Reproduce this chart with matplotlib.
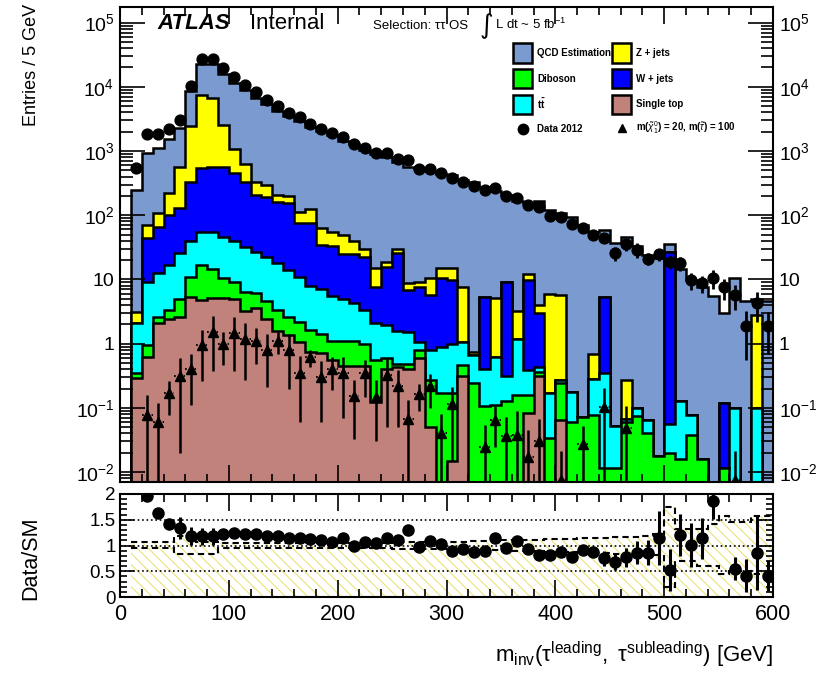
import numpy as np
import matplotlib
matplotlib.use("Agg")
import matplotlib.pyplot as plt
from matplotlib.patches import Rectangle
from matplotlib.lines import Line2D
from matplotlib.ticker import MultipleLocator, LogLocator, FuncFormatter, NullFormatter, FixedLocator

plt.rcParams['font.family'] = ['Liberation Sans', 'DejaVu Sans']
plt.rcParams['mathtext.fontset'] = 'custom'
plt.rcParams['mathtext.rm'] = 'Liberation Sans'
plt.rcParams['mathtext.it'] = 'Liberation Sans:italic'
plt.rcParams['mathtext.bf'] = 'Liberation Sans:bold'
plt.rcParams['hatch.linewidth'] = 0.8

# 10 GeV bins between 10 and 600 GeV
edges = np.arange(10, 601, 10)
centers = edges[:-1] + 5

single_top = [0.29, 0.63, 2.07, 2.45, 2.6, 5.4, 4.8, 5.1, 5.1, 4.9,
              3.2, 3.6, 2.4, 1.6, 1.35, 1.05, 0.75, 0.72, 0.55, 0.45,
              0.45, 0.45, 0.125, 0.4, 0.44, 0.41, 0.59, 0.051, 0, 0.015,
              0.31, 0, 0, 0, 0, 0, 0.082, 0.31, 0, 0.064,
              0, 0, 0, 0, 0, 0, 0, 0, 0, 0,
              0, 0, 0, 0, 0, 0, 0, 0, 0]
diboson = [0.06, 0.32, 0.53, 0.85, 2.3, 5.6, 11.7, 9.7, 5.3, 4.3,
           3.2, 2.6, 2.2, 1.7, 1.25, 1.15, 0.9, 0.68, 0.55, 0.65,
           0.65, 0.55, 0.435, 0.19, 0.05, 0.08, 0.2, 0.219, 0.168, 0.153,
           0.16, 0.24, 0.108, 0.11, 0.13, 0.16, 0.076, 0.05, 0.034, 0.176,
           0.06, 0.073, 0.077, 0.0114, 0.0114, 0.06, 0.075, 0.04, 0.018, 0.02,
           0.016, 0.038, 0.016, 0, 0.0115, 0, 0, 0, 0]
ttbar = [1.75, 8.15, 9.9, 13.7, 20.7, 28, 38.5, 40.2, 35.6, 29.8,
         25.6, 20.8, 17.9, 14.7, 11.4, 8.8, 6.35, 5.6, 4.4, 3.9,
         3.2, 2.3, 1.54, 1.36, 1.11, 1.01, 0.28, 0.52, 0.72, 0.832,
         0.6, 0.42, 0.3, 0.52, 0.18, 1.04, 0.232, 0.08, 0.134, 0.03,
         0.118, 0, 0.208, 0.334, 0.04, 0.008, 0.025, 0.025, 0, 0.036,
         0.114, 0.039, 0, 0, 0, 0.1, 0, 0.1, 0]
wjets = [0, 34.9, 53.5, 83, 102, 294, 480, 515, 509, 411,
         301, 178, 172.5, 142, 140, 66, 69, 28, 27.5, 19.5,
         20.7, 18.7, 5.6, 13.85, 24.1, 5.3, 6.63, 4.91, 9.51, 8.8,
         0, 0, 5.0, 0, 8.9, 0, 9.4, 2.51, 0, 0,
         0, 0, 0, 5.05, 0, 0, 0, 0, 0, 26.9,
         0, 0, 0, 0, 0.107, 0, 0, 0, 0]
zjets = [1.0, 27, 41, 118, 432, 2117, 6965, 6030, 1945, 620,
         297, 128, 100, 45, 46, 36, 48, 28, 22, 24.5,
         14, 7.5, 7.3, 3.2, 4.3, 1.9, 1.5, 4.7, 4.6, 5.2,
         6.63, 0.08, 0, 4.47, 0, 2.0, 2.3, 1.05, 5.83, 5.43,
         0, 0, 0.415, 0, 0, 0.2, 0, 0, 0, 0,
         0, 0, 0, 0, 0, 0, 0, 2.7, 0]
qcd = [247, 869, 1023, 1322, 1750, 6190, 15400, 16300, 13500, 10230,
       8140, 6467, 5045, 4035, 3280, 2827, 2215, 1977, 1715, 1391,
       1251, 1000, 880, 796, 650, 546, 536, 475, 425, 403,
       350, 323, 270, 230, 201, 166, 144, 161, 115, 104,
       94, 70, 55, 52.6, 37.5, 45.7, 33.4, 24.3, 21.4, 8.6,
       14.6, 9.6, 7.6, 5.6, 2.83, 10.3, 4.6, 2.2, 4.6]

data = [540, 1842, 1842, 2187, 3095, 10200, 27000, 27000, 19500, 14000,
        10700, 8300, 6300, 5000, 3970, 3350, 2640, 2240, 1880, 1660,
        1280, 1100, 940, 930, 748, 722, 534, 524, 453, 376,
        333, 285, 248, 270, 200, 183, 145, 135, 98, 95,
        74, 64, 49, 43.5, 25.6, 35.4, 28.8, 21, 24.6, 18.9,
        17.8, 9.8, 8.7, 10.4, 7.5, 5.7, 1.89, 4.3, 1.89]
data_err = [25, 45, 45, 50, 60, 100, 165, 165, 140, 120,
            105, 90, 80, 70, 63, 58, 51, 47, 43, 41,
            36, 33, 31, 30, 27, 27, 23, 23, 21, 19,
            18, 17, 16, 16, 14, 14, 12, 12, 10, 10,
            9, 8, 7, 7, 6, 8, 7.5, 4.5, 5.5, 4.5,
            4.3, 3, 2.5, 3.4, 2.7, 2.4, 1.33, 2.1, 1.2]
ratio_err = [0.1, 0.03, 0.03, 0.04, 0.22, 0.17, 0.17, 0.17, 0.08, 0.04,
             0.04, 0.03, 0.03, 0.03, 0.03, 0.03, 0.03, 0.03, 0.03, 0.03,
             0.03, 0.03, 0.04, 0.04, 0.04, 0.04, 0.04, 0.04, 0.04, 0.05,
             0.05, 0.05, 0.05, 0.06, 0.06, 0.06, 0.06, 0.07, 0.07, 0.07,
             0.08, 0.1, 0.1, 0.15, 0.15, 0.19, 0.22, 0.24, 0.53, 0.41,
             0.41, 0.43, 0.4, 0.35, 0.5, 0.22, 0.32, 0.72, 0.3]

# MC uncertainty band in the ratio pad
band_up = [1.07, 1.07, 1.07, 1.07, 1.18, 1.18, 1.06, 1.06, 1.04, 1.04,
           1.04, 1.04, 1.04, 1.04, 1.04, 1.04, 1.04, 1.05, 1.05, 1.05,
           1.05, 1.05, 1.05, 1.05, 1.06, 1.06, 1.06, 1.06, 1.06, 1.07,
           1.07, 1.08, 1.08, 1.09, 1.10, 1.10, 1.10, 1.11, 1.12, 1.12,
           1.13, 1.14, 1.14, 1.15, 1.16, 1.16, 1.17, 1.18, 1.22, 1.75,
           1.32, 1.32, 1.33, 1.42, 1.58, 1.45, 1.45, 1.57, 1.57]
band_dn = [0.95, 0.95, 0.95, 0.95, 0.84, 0.84, 0.84, 0.84, 0.96, 0.96,
           0.96, 0.96, 0.96, 0.96, 0.96, 0.96, 0.96, 0.95, 0.95, 0.95,
           0.95, 0.95, 0.95, 0.95, 0.94, 0.94, 0.94, 0.94, 0.94, 0.93,
           0.93, 0.92, 0.92, 0.91, 0.90, 0.90, 0.90, 0.89, 0.88, 0.88,
           0.87, 0.86, 0.86, 0.85, 0.84, 0.84, 0.83, 0.82, 0.82, 0.2,
           0.7, 0.7, 0.6, 0.6, 0.45, 0.5, 0.5, 0.45, 0.45]

signal = [0, 0.078, 0.06, 0.168, 0.31, 0.40, 0.96, 1.53, 1.0, 1.48,
          1.17, 1.11, 0.81, 1.11, 0.80, 0.35, 0.62, 0.30, 0.41, 0.35,
          0.153, 0.35, 0.15, 0.32, 0.22, 0.068, 0.163, 0.22, 0.041, 0.115,
          0, 0, 0.025, 0.065, 0.037, 0.038, 0.017, 0.031, 0, 0.0075,
          0, 0.027, 0, 0.104, 0, 0.048, 0, 0, 0, 0,
          0, 0, 0, 0, 0, 0.0075, 0, 0, 0]
signal_err = [0, 0.08, 0.06, 0.09, 0.29, 0.29, 0.7, 1.15, 0.53, 1.1,
              0.9, 0.63, 0.6, 0.42, 0.6, 0.29, 0.19, 0.24, 0.22, 0.28,
              0.12, 0.2, 0.12, 0.27, 0.17, 0.065, 0.075, 0.12, 0.04, 0.1,
              0, 0, 0.03, 0.04, 0.035, 0.05, 0.028, 0.035, 0, 0.014,
              0, 0.025, 0, 0.1, 0, 0.06, 0, 0, 0, 0,
              0, 0, 0, 0, 0, 0.014, 0, 0, 0]

labels = ['Single top', 'Diboson', r'$\mathbf{t\bar{t}}$', 'W + jets', 'Z + jets', 'QCD Estimation']
colors = ['#c0827a', '#00ff00', '#00ffff', '#0000ff', '#ffff00', '#7b9bd0']

W, H = 825, 673
fig = plt.figure(figsize=(W / 100, H / 100), dpi=100)


def fx(px):
    return px / W


def fy(py):
    return 1 - py / H


ax = fig.add_axes([fx(120), fy(482), fx(773) - fx(120), fy(7) - fy(482)])
ax2 = fig.add_axes([fx(120), fy(597), fx(773) - fx(120), fy(494) - fy(597)])

# stacked backgrounds, drawn from the total down to the lowest layer
stack = np.cumsum(np.vstack([single_top, diboson, ttbar, wjets, zjets, qcd]), axis=0)
floor = 1e-4
for i in range(5, -1, -1):
    vals = np.where(stack[i] > 1e-6, stack[i], floor)
    ax.stairs(vals, edges, baseline=floor, fill=True, color=colors[i], lw=0)
    ax.stairs(vals, edges, baseline=floor, color='black', lw=1.8)
total = stack[-1]

data = np.array(data)
data_err = np.array(data_err)
lo = np.minimum(data_err, data - floor)
ax.errorbar(centers, data, yerr=[lo, data_err], fmt='o', color='black', ms=7.8,
            elinewidth=2, capsize=0, zorder=5)

signal = np.array(signal)
signal_err = np.array(signal_err)
m = signal > 0
slo = np.minimum(signal_err[m], signal[m] - floor)
eb = ax.errorbar(centers[m], signal[m], yerr=[slo, signal_err[m]], xerr=5, fmt='^',
                 color='black', ms=6.5, elinewidth=1.8, capsize=0, zorder=6)
eb[2][0].set_linestyle(':')
eb[2][0].set_linewidth(1.3)

ax.set_yscale('log')
ax.set_xlim(0, 600)
ax.set_ylim(0.007, 1.75e5)


def log_label(v, pos):
    e = int(round(np.log10(v)))
    if e == 0:
        return '1'
    if e == 1:
        return '10'
    return r'$\mathregular{10^{%d}}$' % e


ax.yaxis.set_major_locator(LogLocator(base=10, numticks=20))
ax.yaxis.set_minor_locator(LogLocator(base=10, subs=np.arange(2, 10), numticks=20))
ax.yaxis.set_major_formatter(FuncFormatter(log_label))
ax.yaxis.set_minor_formatter(NullFormatter())
ax.xaxis.set_major_locator(MultipleLocator(100))
ax.xaxis.set_minor_locator(MultipleLocator(20))
ax.tick_params(which='both', direction='in', top=True, right=True,
               labelbottom=False, labelright=True, labelsize=14, width=1.2)
ax.tick_params(axis='y', which='major', length=18, pad=4)
ax.tick_params(axis='y', which='minor', length=9)
ax.tick_params(axis='x', which='major', length=12)
ax.tick_params(axis='x', which='minor', length=6)
for s in ax.spines.values():
    s.set_linewidth(1.5)

# ratio pad
ax2.stairs(band_up, edges, baseline=0, fill=True, facecolor='none',
           edgecolor='#ece27a', hatch='\\\\\\', lw=0)
ax2.stairs(band_up, edges, baseline=None, color='black', ls=(0, (3, 2)), lw=1.5)
ax2.stairs(band_dn, edges, baseline=None, color='black', ls=(0, (3, 2)), lw=1.5)
for yv in (0.5, 1.0, 1.5):
    ax2.axhline(yv, color='black', ls=':', lw=1.2)

ratio = data / total
ax2.errorbar(centers, ratio, yerr=ratio_err, fmt='o', color='black', ms=8,
             elinewidth=2.2, capsize=0, zorder=5)
ax2.set_xlim(0, 600)
ax2.set_ylim(0, 2)
ax2.yaxis.set_major_locator(FixedLocator([0, 0.5, 1, 1.5, 2]))
ax2.yaxis.set_major_formatter(FuncFormatter(lambda v, p: '%g' % v))
ax2.yaxis.set_minor_locator(MultipleLocator(0.1))
ax2.xaxis.set_major_locator(MultipleLocator(100))
ax2.xaxis.set_minor_locator(MultipleLocator(20))
ax2.tick_params(which='both', direction='in', top=True, right=True, width=1.2)
ax2.tick_params(axis='y', labelsize=13.5)
ax2.tick_params(axis='x', labelsize=15.5)
ax2.tick_params(axis='y', which='major', length=10, pad=3)
ax2.tick_params(axis='y', which='minor', length=5)
ax2.tick_params(axis='x', which='major', length=12, pad=5)
ax2.tick_params(axis='x', which='minor', length=6)
for s in ax2.spines.values():
    s.set_linewidth(1.5)

# axis titles
fig.text(fx(31), fy(4), 'Entries / 5 GeV', rotation=90, ha='center', va='top', size=13)
fig.text(fx(31), fy(558), 'Data/SM', rotation=90, ha='center', va='center', size=15.5)
fig.text(fx(773), fy(662), r'$\mathregular{m_{inv}(\tau^{leading},\ \tau^{subleading})}$ [GeV]',
         ha='right', va='baseline', size=16)

# header
fig.text(fx(157), fy(29), 'ATLAS', weight='bold', style='italic', size=16, va='baseline')
fig.text(fx(250), fy(29), 'Internal', size=16, va='baseline')
fig.text(fx(373), fy(29), 'Selection: ττ OS', size=9.5, va='baseline')
fig.text(fx(480), fy(33), '∫', size=19, va='baseline', family='DejaVu Sans')
fig.text(fx(495), fy(29), r'L dt ~ 5 fb$^{\mathregular{-1}}$', size=9.5, va='baseline')

# legend
rows = [53, 78.5, 104]
box_entries = [(5, 0, 0), (1, 0, 1), (2, 0, 2), (4, 1, 0), (3, 1, 1), (0, 1, 2)]
col_box = [513, 612]
col_txt = [537, 636]
for idx, col, row in box_entries:
    y = rows[row]
    fig.add_artist(Rectangle((fx(col_box[col]), fy(y + 9.5)), 19 / W, 19 / H,
                             facecolor=colors[idx], edgecolor='black', lw=1.8,
                             transform=fig.transFigure))
    fig.text(fx(col_txt[col]), fy(y), labels[idx], weight='bold', size=7, va='center')
fig.add_artist(Line2D([fx(522.5)], [fy(129)], marker='o', ms=7.5, color='black',
                      transform=fig.transFigure))
fig.text(fx(col_txt[0]), fy(129), 'Data 2012', weight='bold', size=7, va='center')
fig.add_artist(Line2D([fx(621.5)], [fy(128)], marker='^', ms=6, color='black',
                      transform=fig.transFigure))
fig.text(fx(col_txt[1]), fy(128),
         r'm($\tilde{\chi}^{0}_{1}$) = 20, m($\tilde{\tau}$) = 100',
         weight='bold', size=7, va='center')

fig.savefig('out.png', dpi=100)
